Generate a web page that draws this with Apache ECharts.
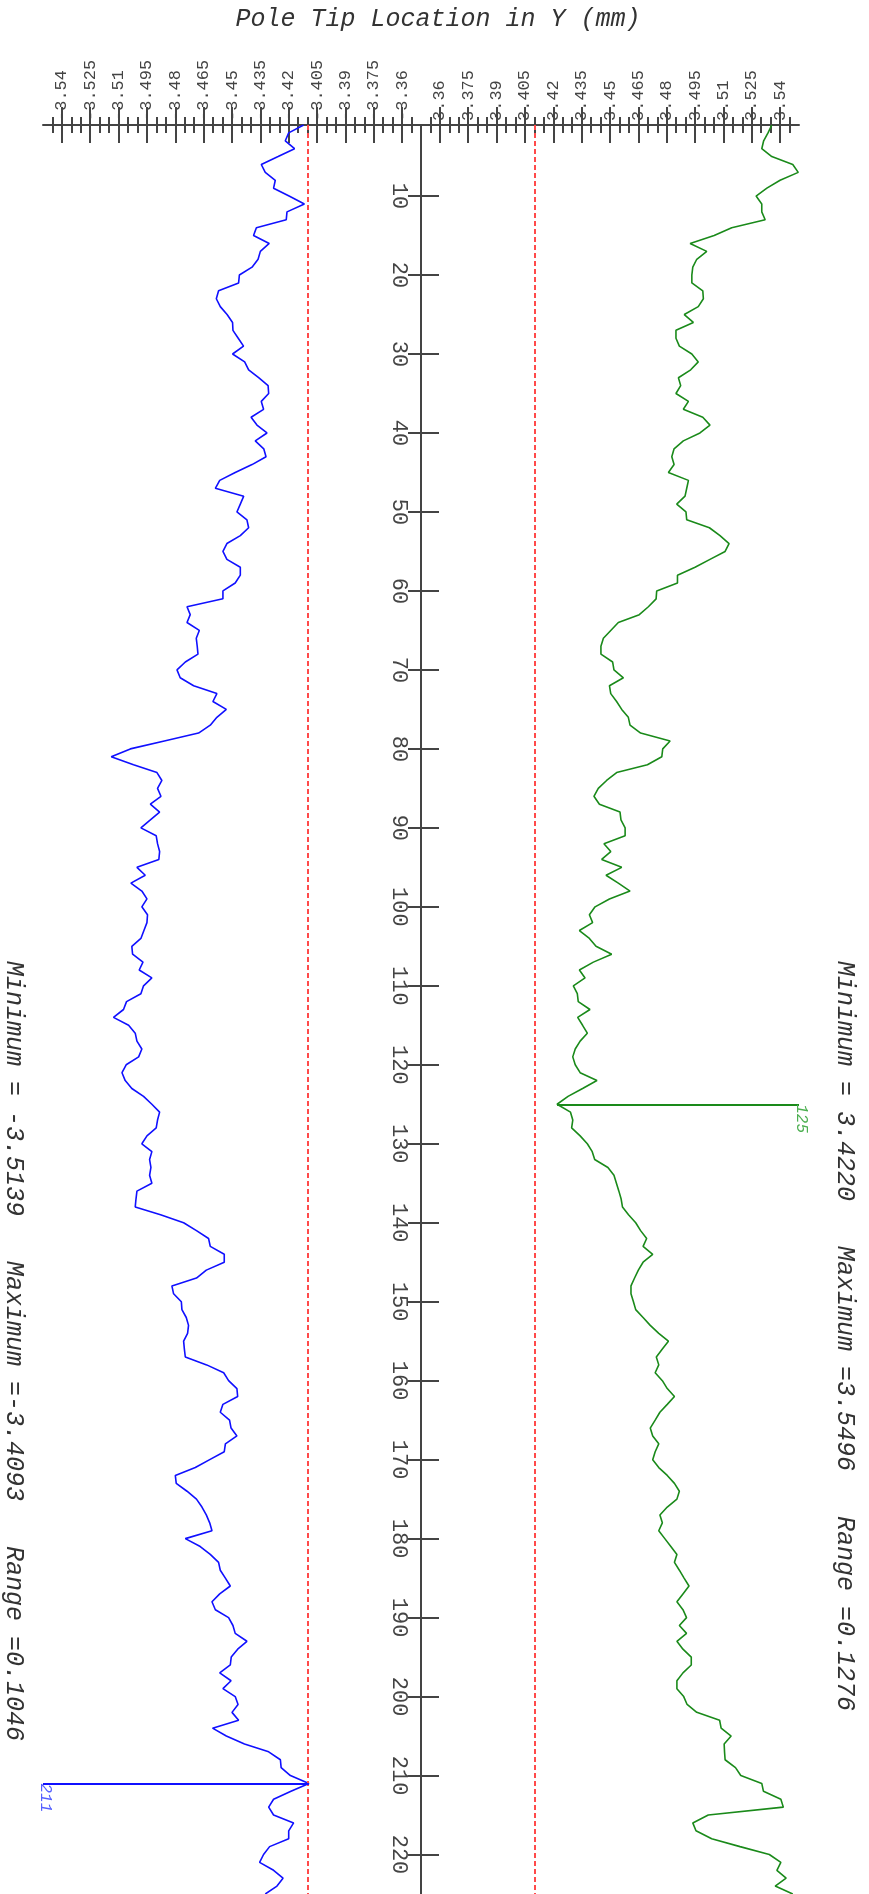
<!DOCTYPE html>
<html><head><meta charset="utf-8">
<script src="https://cdn.jsdelivr.net/npm/echarts@6/dist/echarts.min.js"></script>
<style>html,body{margin:0;padding:0;background:#fff}#c{width:869px;height:1894px}</style>
</head><body><div id="c"></div>
<script>
const titleText = 'Pole Tip Location in Y (mm)';
const negStatsText = 'Minimum = -3.5139   Maximum =-3.4093   Range =0.1046';
const posStatsText = 'Minimum = 3.4220   Maximum =3.5496   Range =0.1276';

// index 1..225
const negValues = [
-3.4121,-3.4200,-3.4218,-3.4169,-3.4256,-3.4345,-3.4324,-3.4271,-3.4280,-3.4198,
-3.4117,-3.4209,-3.4213,-3.4371,-3.4386,-3.4303,-3.4350,-3.4362,-3.4394,-3.4461,
-3.4465,-3.4571,-3.4583,-3.4562,-3.4526,-3.4497,-3.4495,-3.4467,-3.4439,-3.4497,
-3.4433,-3.4412,-3.4359,-3.4309,-3.4306,-3.4345,-3.4333,-3.4399,-3.4368,-3.4315,
-3.4377,-3.4332,-3.4320,-3.4394,-3.4483,-3.4565,-3.4588,-3.4438,-3.4456,-3.4474,
-3.4421,-3.4412,-3.4456,-3.4527,-3.4548,-3.4527,-3.4456,-3.4456,-3.4483,-3.4548,
-3.4548,-3.4738,-3.4721,-3.4738,-3.4673,-3.4689,-3.4684,-3.4680,-3.4747,-3.4791,
-3.4774,-3.4703,-3.4580,-3.4601,-3.4530,-3.4580,-3.4615,-3.4677,-3.4858,-3.5038,
-3.5139,-3.5021,-3.4897,-3.4871,-3.4894,-3.4876,-3.4932,-3.4883,-3.4932,-3.4982,
-3.4901,-3.4894,-3.4883,-3.4887,-3.5003,-3.4959,-3.5035,-3.4977,-3.4950,-3.4977,
-3.4947,-3.4950,-3.4966,-3.4982,-3.5030,-3.5026,-3.4971,-3.4991,-3.4924,-3.4968,
-3.4982,-3.5058,-3.5074,-3.5127,-3.5047,-3.5012,-3.5003,-3.4977,-3.4994,-3.5060,
-3.5082,-3.5065,-3.5030,-3.4968,-3.4924,-3.4883,-3.4894,-3.4901,-3.4950,-3.4977,
-3.4924,-3.4936,-3.4929,-3.4936,-3.4924,-3.5003,-3.5008,-3.5012,-3.4878,-3.4756,
-3.4688,-3.4624,-3.4615,-3.4541,-3.4541,-3.4636,-3.4688,-3.4818,-3.4809,-3.4768,
-3.4765,-3.4742,-3.4730,-3.4735,-3.4756,-3.4752,-3.4747,-3.4634,-3.4544,-3.4518,
-3.4474,-3.4470,-3.4548,-3.4562,-3.4513,-3.4505,-3.4474,-3.4535,-3.4541,-3.4618,
-3.4694,-3.4800,-3.4795,-3.4738,-3.4688,-3.4659,-3.4636,-3.4618,-3.4606,-3.4747,
-3.4668,-3.4615,-3.4571,-3.4562,-3.4535,-3.4509,-3.4565,-3.4606,-3.4588,-3.4518,
-3.4495,-3.4483,-3.4421,-3.4470,-3.4504,-3.4509,-3.4565,-3.4505,-3.4548,-3.4483,
-3.4468,-3.4500,-3.4465,-3.4603,-3.4530,-3.4434,-3.4306,-3.4244,-3.4240,-3.4191,
-3.4093,-3.4188,-3.4280,-3.4306,-3.4280,-3.4174,-3.4200,-3.4200,-3.4301,-3.4333,
-3.4354,-3.4280,-3.4230,-3.4262,-3.4324
];
const posValues = [
3.5356,3.5336,3.5313,3.5303,3.5356,3.5467,3.5496,3.5400,3.5330,3.5273,
3.5303,3.5303,3.5321,3.5144,3.5051,3.4924,3.5012,3.4959,3.4938,3.4933,
3.4933,3.4991,3.4994,3.4967,3.4893,3.4941,3.4849,3.4849,3.4867,3.4933,
3.4967,3.4927,3.4862,3.4874,3.4849,3.4915,3.4888,3.4991,3.5029,3.4976,
3.4888,3.4839,3.4827,3.4839,3.4809,3.4915,3.4906,3.4897,3.4853,3.4902,
3.4906,3.5026,3.5082,3.5130,3.5109,3.5029,3.4950,3.4857,3.4857,3.4747,
3.4744,3.4703,3.4655,3.4544,3.4504,3.4465,3.4452,3.4452,3.4514,3.4521,
3.4571,3.4497,3.4504,3.4535,3.4562,3.4597,3.4606,3.4662,3.4818,3.4779,
3.4774,3.4698,3.4535,3.4482,3.4438,3.4415,3.4444,3.4553,3.4558,3.4580,
3.4580,3.4468,3.4504,3.4456,3.4562,3.4479,3.4544,3.4606,3.4497,3.4421,
3.4391,3.4408,3.4338,3.4391,3.4426,3.4509,3.4412,3.4338,3.4368,3.4306,
3.4327,3.4332,3.4394,3.4329,3.4355,3.4380,3.4342,3.4316,3.4303,3.4316,
3.4342,3.4431,3.4355,3.4278,3.4220,3.4291,3.4303,3.4297,3.4342,3.4380,
3.4406,3.4419,3.4489,3.4521,3.4534,3.4547,3.4559,3.4566,3.4598,3.4636,
3.4662,3.4694,3.4675,3.4726,3.4675,3.4650,3.4630,3.4611,3.4611,3.4624,
3.4636,3.4675,3.4713,3.4758,3.4809,3.4777,3.4745,3.4758,3.4739,3.4777,
3.4803,3.4841,3.4803,3.4764,3.4739,3.4713,3.4726,3.4758,3.4739,3.4726,
3.4758,3.4803,3.4841,3.4867,3.4854,3.4803,3.4764,3.4777,3.4758,3.4790,
3.4822,3.4854,3.4841,3.4867,3.4892,3.4918,3.4886,3.4854,3.4886,3.4905,
3.4867,3.4905,3.4854,3.4886,3.4930,3.4930,3.4886,3.4854,3.4854,3.4890,
3.4908,3.4959,3.5080,3.5088,3.5141,3.5104,3.5106,3.5109,3.5164,3.5192,
3.5303,3.5312,3.5404,3.5417,3.5020,3.4938,3.4955,3.5038,3.5188,3.5343,
3.5404,3.5383,3.5432,3.5374,3.5467
];
const negMajorLabels = ['-3.54','-3.525','-3.51','-3.495','-3.48','-3.465','-3.45','-3.435','-3.42','-3.405','-3.39','-3.375','-3.36'];
const posMajorLabels = ['3.36','3.375','3.39','3.405','3.42','3.435','3.45','3.465','3.48','3.495','3.51','3.525','3.54'];
const indexTickLabels = ['10','20','30','40','50','60','70','80','90','100','110','120','130','140','150','160','170','180','190','200','210','220'];
const negLimit = -3.4093, posLimit = 3.4093;
const negMark = {index: 211, value: -3.4093, label: '211'};
const posMark = {index: 125, value: 3.4220, label: '125'};
const negRange = [-3.55, -3.35], posRange = [3.35, 3.55];
const indexRange = [1, 225];

const AX = '#444';
const FONT = '"Liberation Mono", "DejaVu Sans Mono", monospace';

function minorsOf(range) {
  const out = [];
  for (let v = range[0] + 0.005; v < range[1] - 0.001; v += 0.005) out.push(Math.round(v * 1000) / 1000);
  return out;
}
function padEnd(s, n) { while (s.length < n) s += ' '; return s; }
function xAxesFor(grid, range, labels, width) {
  const majors = labels.map(Number);
  const minors = minorsOf(range);
  const base = {gridIndex: grid, type: 'value', min: range[0], max: range[1], position: 'top',
    splitLine: {show: false}, axisLine: {show: false, onZero: false}, axisLabel: {show: false}};
  const tl = {color: AX, width: 2};
  return [
    Object.assign({}, base, {
      axisLine: {show: true, onZero: false, lineStyle: {color: AX, width: 2}},
      axisTick: {show: true, customValues: majors, length: 18, lineStyle: tl},
      axisLabel: {show: true, customValues: majors,
        formatter: v => { let k = 0, b = 1e9; majors.forEach((m, j) => { const d = Math.abs(m - v); if (d < b) { b = d; k = j; } }); return padEnd(labels[k], width); },
        rotate: -90, margin: 4,
        fontFamily: FONT, fontSize: 17, color: AX}
    }),
    Object.assign({}, base, {axisTick: {show: true, inside: true, customValues: majors, length: 18, lineStyle: tl}}),
    Object.assign({}, base, {axisTick: {show: true, customValues: minors, length: 8, lineStyle: tl}}),
    Object.assign({}, base, {axisTick: {show: true, inside: true, customValues: minors, length: 8, lineStyle: tl}})
  ];
}
const idxTicks = indexTickLabels.map(Number);

const chart = echarts.init(document.getElementById('c'), null, {width: 869, height: 1894});
chart.setOption({
  animation: false,
  backgroundColor: '#fff',
  grid: [
    {left: 43, top: 125, width: 378, height: 1769, outerBoundsMode: 'none', containLabel: false},
    {left: 421, top: 125, width: 378, height: 1769, outerBoundsMode: 'none', containLabel: false}
  ],
  xAxis: xAxesFor(0, negRange, negMajorLabels, 6).concat(xAxesFor(1, posRange, posMajorLabels, 5)),
  yAxis: [
    {gridIndex: 0, type: 'value', min: indexRange[0], max: indexRange[1], inverse: true, position: 'right',
      axisLine: {show: true, onZero: false, lineStyle: {color: AX, width: 2}},
      axisTick: {show: true, customValues: idxTicks, length: 18, lineStyle: {color: AX, width: 2}},
      axisLabel: {show: false}, splitLine: {show: false}},
    {gridIndex: 1, type: 'value', min: indexRange[0], max: indexRange[1], inverse: true, position: 'left',
      axisLine: {show: false, onZero: false},
      axisTick: {show: true, customValues: idxTicks, length: 13, lineStyle: {color: AX, width: 2}},
      axisLabel: {show: true, customValues: idxTicks, rotate: -90, align: 'center', verticalAlign: 'top', margin: 11,
        fontFamily: FONT, fontSize: 22, color: AX},
      splitLine: {show: false}}
  ],
  series: [
    {type: 'line', name: 'neg', xAxisIndex: 0, yAxisIndex: 0, showSymbol: false, symbol: 'none',
      data: negValues.map((v, k) => [v, k + 1]),
      lineStyle: {color: '#1010ff', width: 1.6}, itemStyle: {color: '#1010ff'},
      markLine: {silent: true, symbol: 'none', animation: false, label: {show: false},
        data: [
          {xAxis: negLimit, lineStyle: {color: '#ff4a4a', width: 2, type: [5, 3]}},
          [{coord: [negMark.value, negMark.index], lineStyle: {color: '#1010ff', width: 2, type: 'solid'}},
           {coord: [negRange[0], negMark.index]}]
        ]},
      markPoint: {symbol: 'circle', symbolSize: 0, silent: true, animation: false,
        data: [{coord: [negRange[0], negMark.index], label: {show: true, position: 'inside', formatter: negMark.label,
          rotate: -90, align: 'left', verticalAlign: 'bottom', offset: [0, 6],
          fontFamily: FONT, fontStyle: 'italic', fontSize: 16, color: '#5560ff'}}]}
    },
    {type: 'line', name: 'pos', xAxisIndex: 4, yAxisIndex: 1, showSymbol: false, symbol: 'none',
      data: posValues.map((v, k) => [v, k + 1]),
      lineStyle: {color: '#1a8a1a', width: 1.6}, itemStyle: {color: '#1a8a1a'},
      markLine: {silent: true, symbol: 'none', animation: false, label: {show: false},
        data: [
          {xAxis: posLimit, lineStyle: {color: '#ff4a4a', width: 2, type: [5, 3]}},
          [{coord: [posMark.value, posMark.index], lineStyle: {color: '#1a8a1a', width: 2, type: 'solid'}},
           {coord: [posRange[1], posMark.index]}]
        ]},
      markPoint: {symbol: 'circle', symbolSize: 0, silent: true, animation: false,
        data: [{coord: [posRange[1], posMark.index], label: {show: true, position: 'inside', formatter: posMark.label,
          rotate: -90, align: 'left', verticalAlign: 'bottom', offset: [0, 6],
          fontFamily: FONT, fontStyle: 'italic', fontSize: 16, color: '#4caf50'}}]}
    }
  ],
  graphic: [
    {type: 'text', x: 438, y: 19, silent: true,
      style: {text: titleText, font: 'italic 25px "Liberation Mono"', fill: '#333', align: 'center', verticalAlign: 'middle'}},
    {type: 'text', x: 845, y: 961, rotation: -Math.PI / 2, silent: true,
      style: {text: posStatsText, font: 'italic 25px "Liberation Mono"', fill: '#333', align: 'left', verticalAlign: 'middle'}},
    {type: 'text', x: 14, y: 961, rotation: -Math.PI / 2, silent: true,
      style: {text: negStatsText, font: 'italic 25px "Liberation Mono"', fill: '#333', align: 'left', verticalAlign: 'middle'}}
  ]
});
</script>
</body></html>
